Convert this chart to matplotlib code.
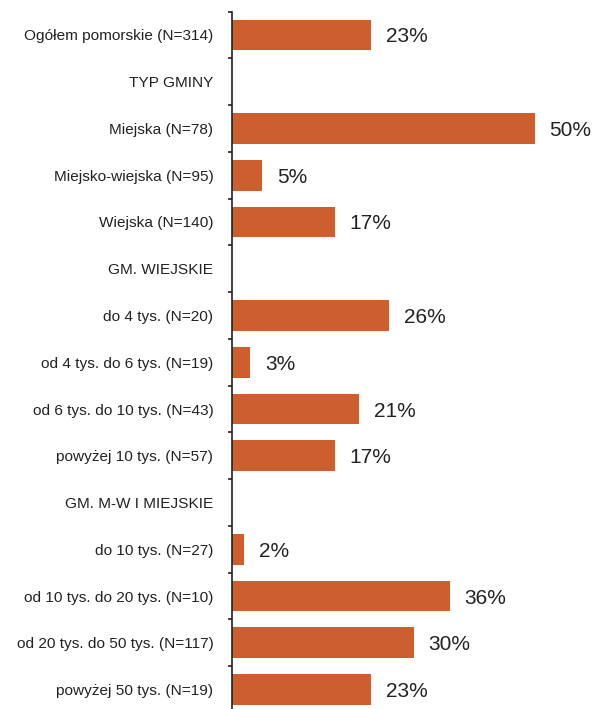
import matplotlib.pyplot as plt
import numpy as np

plt.rcParams['font.family'] = ['Liberation Sans', 'DejaVu Sans']

labels = ['Ogółem pomorskie (N=314)', 'TYP GMINY', 'Miejska (N=78)',
          'Miejsko-wiejska (N=95)', 'Wiejska (N=140)', 'GM. WIEJSKIE',
          'do 4 tys. (N=20)', 'od 4 tys. do 6 tys. (N=19)',
          'od 6 tys. do 10 tys. (N=43)', 'powyżej 10 tys. (N=57)',
          'GM. M-W I MIEJSKIE', 'do 10 tys. (N=27)',
          'od 10 tys. do 20 tys. (N=10)', 'od 20 tys. do 50 tys. (N=117)',
          'powyżej 50 tys. (N=19)']
values = [23, None, 50, 5, 17, None, 26, 3, 21, 17, None, 2, 36, 30, 23]

fig = plt.figure(figsize=(5.95, 7.09), dpi=100)
ax = fig.add_axes([0.39, -0.0056, 0.61, 0.9893])

y = np.arange(len(labels))
for i, v in enumerate(values):
    if v is None:
        continue
    ax.barh(i, v, height=0.66, color='#CD5F2F')
    ax.annotate(f'{v}%', (v, i), xytext=(10.5, 0), textcoords='offset points',
                va='center_baseline', ha='left', fontsize=15, color='#222222')

ax.set_ylim(14.5, -0.5)
ax.set_xlim(0, 60)
ax.set_yticks(y)
ax.set_yticklabels(labels, fontsize=11.1, color='#222222')
ax.set_yticks(np.arange(-0.5, 15, 1), minor=True)
ax.tick_params(axis='y', which='major', length=0, pad=13.5)
ax.tick_params(axis='y', which='minor', length=3, width=1.2, color='#222222')
ax.set_xticks([])
for s in ['top', 'right', 'bottom']:
    ax.spines[s].set_visible(False)
ax.spines['left'].set_linewidth(1.2)
ax.spines['left'].set_color('#222222')

fig.savefig('out.png', dpi=100)
